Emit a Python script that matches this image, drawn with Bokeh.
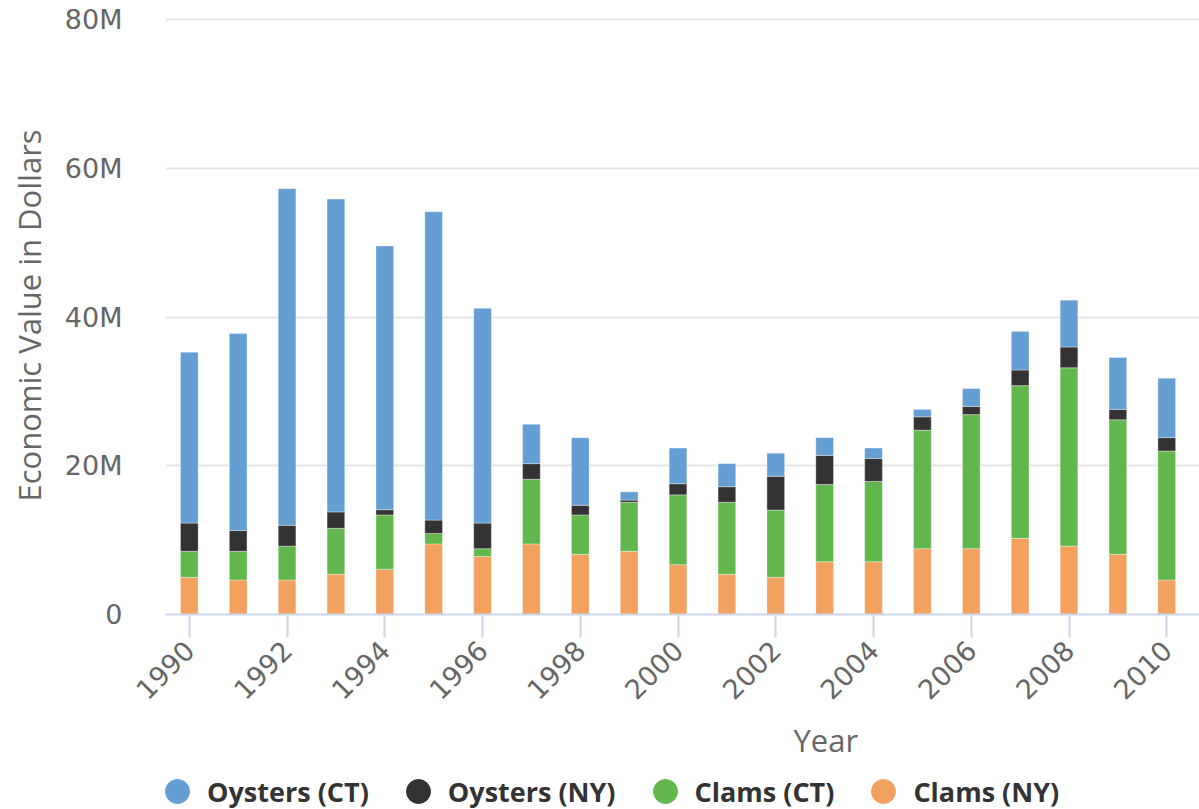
import math
from bokeh.plotting import figure
from bokeh.layouts import column
from bokeh.models import ColumnDataSource, FixedTicker, Legend, LegendItem, Title
from bokeh.embed import file_html
from bokeh.resources import INLINE

years = list(range(1990, 2011))
clams_ny = [5.0, 4.65, 4.65, 5.4, 6.1, 9.5, 7.8, 9.5, 8.1, 8.5, 6.7, 5.4, 5.0, 7.1, 7.1, 8.85, 8.85, 10.25, 9.2, 8.1, 4.65]
clams_ct = [3.5, 3.85, 4.55, 6.2, 7.3, 1.4, 1.05, 8.7, 5.3, 6.6, 9.4, 9.7, 9.05, 10.4, 10.8, 15.95, 18.05, 20.55, 24.0, 18.1, 17.35]
oysters_ny = [3.8, 2.8, 2.8, 2.2, 0.7, 1.8, 3.45, 2.1, 1.3, 0.3, 1.5, 2.1, 4.55, 3.9, 3.1, 1.8, 1.1, 2.1, 2.8, 1.4, 1.8]
oysters_ct = [23.0, 26.5, 45.3, 42.1, 35.5, 41.5, 28.9, 5.3, 9.1, 1.1, 4.8, 3.1, 3.1, 2.4, 1.4, 1.0, 2.4, 5.2, 6.3, 7.0, 8.0]

series_keys = ["clams_ny", "clams_ct", "oysters_ny", "oysters_ct"]
series_names = ["Clams (NY)", "Clams (CT)", "Oysters (NY)", "Oysters (CT)"]
series_colors = ["#f3a15f", "#62b74c", "#333333", "#659ed3"]

x_tick_values = list(range(1990, 2011, 2))
y_tick_values = [0, 20e6, 40e6, 60e6, 80e6]
y_tick_labels = ["0", "20M", "40M", "60M", "80M"]

M = 1e6
source = ColumnDataSource(dict(
    year=years,
    clams_ny=[v * M for v in clams_ny],
    clams_ct=[v * M for v in clams_ct],
    oysters_ny=[v * M for v in oysters_ny],
    oysters_ct=[v * M for v in oysters_ct],
))

p = figure(width=1199, height=770, output_backend="svg", toolbar_location=None,
           x_range=(1989.513, 2010.67), y_range=(0, 80.47e6),
           min_border_left=165, min_border_right=0, min_border_top=16, min_border_bottom=156)
p.outline_line_color = None
p.background_fill_color = "white"
p.border_fill_color = "white"

p.vbar_stack(series_keys, x="year", width=0.362, source=source,
             color=series_colors, line_color="white", line_alpha=0.35, line_width=1)

tick_font = "DejaVu Sans"
# y axis
p.yaxis.ticker = FixedTicker(ticks=y_tick_values)
p.yaxis.major_label_overrides = {v: l for v, l in zip(y_tick_values, y_tick_labels)}
p.yaxis.axis_line_color = None
p.yaxis.major_tick_line_color = None
p.yaxis.minor_tick_line_color = None
p.yaxis.major_label_standoff = 37
p.yaxis.major_label_text_font = tick_font
p.yaxis.major_label_text_font_size = "27px"
p.yaxis.major_label_text_color = "#666666"
p.yaxis.axis_label = "Economic Value in Dollars"
p.yaxis.axis_label_text_font = "Open Sans"
p.yaxis.axis_label_text_font_size = "31px"
p.yaxis.axis_label_text_font_style = "normal"
p.yaxis.axis_label_text_color = "#666666"
p.yaxis.axis_label_standoff = 12

# x axis
p.xaxis.ticker = FixedTicker(ticks=x_tick_values)
p.xaxis.axis_line_color = "#ccd6eb"
p.xaxis.axis_line_width = 2
p.xaxis.major_tick_line_color = "#ccd6eb"
p.xaxis.major_tick_line_width = 2
p.xaxis.major_tick_out = 23
p.xaxis.major_tick_in = 0
p.xaxis.minor_tick_line_color = None
p.xaxis.major_label_orientation = math.pi / 4
p.xaxis.major_label_standoff = 8
p.xaxis.major_label_text_font = tick_font
p.xaxis.major_label_text_font_size = "27px"
p.xaxis.major_label_text_color = "#666666"

p.xgrid.grid_line_color = None
p.ygrid.grid_line_color = "#e6e6e6"
p.ygrid.grid_line_width = 2

# x axis title
p.add_layout(Title(text="Year", align="left", offset=628, standoff=10,
                   text_font="Open Sans", text_font_size="31px", text_font_style="normal",
                   text_color="#666666"), "below")

# legend strip below the chart
pl = figure(width=1199, height=39, output_backend="svg", toolbar_location=None,
            x_range=(0, 1), y_range=(0, 1), min_border=0,
            x_axis_location=None, y_axis_location=None)
pl.outline_line_color = None
pl.grid.visible = False
items = []
for name, col in zip(series_names, series_colors):
    r = pl.scatter(x=[float("nan")], y=[float("nan")], marker="circle", size=10,
                   fill_color=col, line_color=col)
    items.append(LegendItem(label=name, renderers=[r]))
items = items[::-1]
legend = Legend(items=items, orientation="horizontal", location=(-18, -12),
                glyph_width=60, glyph_height=60, label_standoff=-2, spacing=19,
                padding=0, margin=0, border_line_color=None, background_fill_alpha=0,
                label_text_font="Open Sans", label_text_font_style="bold",
                label_text_font_size="27px", label_text_color="#333333")
pl.add_layout(legend, "center")

open("out.html", "w").write(file_html(column(p, pl, spacing=0), INLINE))
